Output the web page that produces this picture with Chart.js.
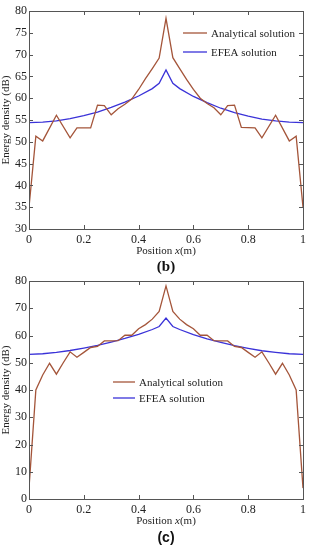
<!DOCTYPE html>
<html>
<head>
<meta charset="utf-8">
<script src="https://cdn.jsdelivr.net/npm/chart.js@4.4.1/dist/chart.umd.min.js"></script>
<style>
    body { margin: 0; background: #fff; width: 312px; height: 550px; position: relative; overflow: hidden; }
    .box { position: absolute; left: 0; width: 312px; height: 250px; }
    .xlabel { position: absolute; width: 274px; left: 29px; text-align: center; font: 11px "Liberation Serif", serif; color: #222; }
    .panel { position: absolute; width: 274px; left: 29px; text-align: center; font-weight: bold; color: #111; }
</style>
</head>
<body>
<div class="box" style="top:0"><canvas id="chartB"></canvas></div>
<div class="xlabel" style="top:244px">Position <i>x</i>(m)</div>
<div class="panel" style="top:258px; font: bold 15px 'Liberation Serif', serif;">(b)</div>

<div class="box" style="top:270px"><canvas id="chartC"></canvas></div>
<div class="xlabel" style="top:514px">Position <i>x</i>(m)</div>
<div class="panel" style="top:529px; font: bold 14px 'Liberation Sans', sans-serif;">(c)</div>

<script>
// --- ДАННЫЕ ---

// Подписи осей
const xTicks = [0, 0.2, 0.4, 0.6, 0.8, 1];
const yTicksB = [30, 35, 40, 45, 50, 55, 60, 65, 70, 75, 80];
const yTicksC = [0, 10, 20, 30, 40, 50, 60, 70, 80];

// (b) аналитическое решение
const posAnalyticalB = [0, 0.025, 0.05, 0.1, 0.15, 0.175, 0.225, 0.25, 0.275, 0.3, 0.325, 0.35, 0.375, 0.4, 0.425, 0.45, 0.475, 0.5,
    0.525, 0.55, 0.575, 0.6, 0.625, 0.65, 0.675, 0.7, 0.725, 0.75, 0.775, 0.825, 0.85, 0.9, 0.95, 0.975, 1];
const analyticalB = [35, 51.3, 50.2, 56.1, 50.9, 53.2, 53.2, 58.4, 58.3, 56.2, 57.6, 58.6, 59.8, 62.0, 64.5, 66.8, 69.2, 78.3,
    69.3, 66.8, 64.3, 62.0, 60.0, 58.8, 57.8, 56.2, 58.3, 58.4, 53.3, 53.2, 50.9, 56.1, 50.2, 51.3, 35];

// (b) EFEA
const posEfeaB = [0, 0.05, 0.1, 0.15, 0.2, 0.25, 0.3, 0.35, 0.4, 0.45, 0.475, 0.5, 0.525, 0.55, 0.6, 0.65, 0.7, 0.75, 0.8, 0.85, 0.9, 0.95, 1];
const efeaB = [54.4, 54.5, 54.8, 55.3, 56.0, 56.8, 57.9, 59.1, 60.5, 62.2, 63.4, 66.5, 63.4, 62.2, 60.4, 59.0, 57.7, 56.7, 55.9, 55.2, 54.8, 54.5, 54.4];

// (c) аналитическое решение
const posAnalyticalC = [0, 0.025, 0.05, 0.075, 0.1, 0.125, 0.15, 0.175, 0.2, 0.225, 0.25, 0.275, 0.3, 0.325, 0.35, 0.375, 0.4, 0.425, 0.45, 0.475, 0.5,
    0.525, 0.55, 0.575, 0.6, 0.625, 0.65, 0.675, 0.7, 0.725, 0.75, 0.775, 0.8, 0.825, 0.85, 0.875, 0.9, 0.925, 0.95, 0.975, 1];
const analyticalC = [4, 40, 45.5, 49.8, 45.8, 50.0, 54.0, 52.0, 53.8, 55.6, 56.0, 58.0, 58.0, 58.1, 60.1, 60.1, 62.5, 64.0, 66.0, 68.8, 78.2,
    68.8, 66.0, 64.0, 62.5, 60.1, 60.1, 58.1, 58.0, 58.0, 56.0, 55.6, 53.8, 52.0, 54.0, 50.0, 45.8, 49.8, 45.5, 40, 4];

// (c) EFEA
const posEfeaC = [0, 0.05, 0.1, 0.15, 0.2, 0.25, 0.3, 0.35, 0.4, 0.45, 0.475, 0.5, 0.525, 0.55, 0.6, 0.65, 0.7, 0.75, 0.8, 0.85, 0.9, 0.95, 1];
const efeaC = [53.1, 53.3, 53.8, 54.5, 55.4, 56.4, 57.6, 58.9, 60.4, 62.2, 63.3, 66.4, 63.3, 62.2, 60.3, 58.8, 57.5, 56.3, 55.3, 54.4, 53.8, 53.3, 53.1];

const seriesLabels = ['Analytical solution', 'EFEA solution'];
const seriesColors = ['#a4553a', '#3a32d8'];

// --- ПЛАГИНЫ ---

// Рамка вокруг области графика и засечки внутрь (как в MATLAB)
const boxTicksPlugin = {
    id: 'boxTicks',
    afterDatasetsDraw(chart) {
        const { ctx, chartArea: a, scales } = chart;
        const len = 4;
        ctx.save();
        ctx.strokeStyle = '#555';
        ctx.lineWidth = 1;
        ctx.beginPath();
        scales.x.ticks.forEach(t => {
            const px = Math.round(scales.x.getPixelForValue(t.value)) + 0.5;
            ctx.moveTo(px, a.bottom); ctx.lineTo(px, a.bottom - len);
            ctx.moveTo(px, a.top); ctx.lineTo(px, a.top + len);
        });
        scales.y.ticks.forEach(t => {
            const py = Math.round(scales.y.getPixelForValue(t.value)) + 0.5;
            ctx.moveTo(a.left, py); ctx.lineTo(a.left + len, py);
            ctx.moveTo(a.right, py); ctx.lineTo(a.right - len, py);
        });
        ctx.stroke();
        ctx.strokeRect(Math.round(a.left) + 0.5, Math.round(a.top) + 0.5, Math.round(a.right - a.left), Math.round(a.bottom - a.top));
        ctx.restore();
    }
};

// Легенда внутри области графика, без рамки
const innerLegendPlugin = {
    id: 'innerLegend',
    afterDraw(chart, args, opts) {
        const { ctx } = chart;
        ctx.save();
        ctx.font = '11px "Liberation Serif", serif';
        ctx.textBaseline = 'middle';
        chart.data.datasets.forEach((ds, i) => {
            const y = opts.y + i * opts.gap;
            ctx.strokeStyle = ds.borderColor;
            ctx.lineWidth = 1.3;
            ctx.beginPath();
            ctx.moveTo(opts.x, y);
            ctx.lineTo(opts.x + opts.len, y);
            ctx.stroke();
            ctx.fillStyle = '#222';
            ctx.fillText(ds.label, opts.x + opts.len + 4, y + 1);
        });
        ctx.restore();
    }
};

function buildChart(canvasId, posA, valA, posE, valE, yTicks, legendPos) {
    const tickFont = { family: '"Liberation Serif", serif', size: 12 };
    return new Chart(document.getElementById(canvasId), {
        type: 'line',
        data: {
            datasets: [
                {
                    label: seriesLabels[0],
                    data: posA.map((x, i) => ({ x: x, y: valA[i] })),
                    borderColor: seriesColors[0],
                    borderWidth: 1.3,
                    pointRadius: 0,
                    tension: 0
                },
                {
                    label: seriesLabels[1],
                    data: posE.map((x, i) => ({ x: x, y: valE[i] })),
                    borderColor: seriesColors[1],
                    borderWidth: 1.3,
                    pointRadius: 0,
                    tension: 0
                }
            ]
        },
        options: {
            responsive: true,
            maintainAspectRatio: false,
            animation: false,
            layout: { padding: { top: 11, right: 9, left: 0, bottom: 0 } },
            plugins: {
                legend: { display: false },
                tooltip: { enabled: false },
                innerLegend: legendPos
            },
            scales: {
                x: {
                    type: 'linear',
                    min: 0,
                    max: 1,
                    afterBuildTicks: s => { s.ticks = xTicks.map(v => ({ value: v })); },
                    afterFit: s => { s.height = 21; },
                    grid: { drawOnChartArea: false, drawTicks: false },
                    border: { display: false },
                    ticks: { color: '#222', font: tickFont, padding: 4, maxRotation: 0, callback: v => String(v) }
                },
                y: {
                    min: yTicks[0],
                    max: yTicks[yTicks.length - 1],
                    afterBuildTicks: s => { s.ticks = yTicks.map(v => ({ value: v })); },
                    afterFit: s => { s.width = 29; },
                    grid: { drawOnChartArea: false, drawTicks: false },
                    border: { display: false },
                    ticks: { color: '#222', font: tickFont, padding: 2 },
                    title: {
                        display: true,
                        text: 'Energy density (dB)',
                        color: '#222',
                        font: { family: '"Liberation Serif", serif', size: 11 },
                        padding: { top: 0, bottom: 0 }
                    }
                }
            }
        },
        plugins: [boxTicksPlugin, innerLegendPlugin]
    });
}

buildChart('chartB', posAnalyticalB, analyticalB, posEfeaB, efeaB, yTicksB, { x: 183, y: 33, gap: 19, len: 24 });
buildChart('chartC', posAnalyticalC, analyticalC, posEfeaC, efeaC, yTicksC, { x: 113, y: 112, gap: 16, len: 22 });
</script>
</body>
</html>
